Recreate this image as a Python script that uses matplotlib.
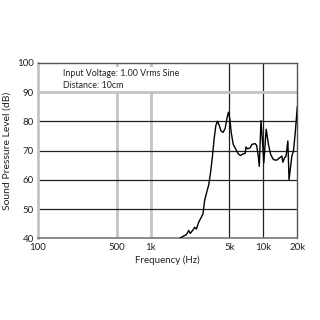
import matplotlib
matplotlib.use("Agg")
import matplotlib.pyplot as plt
from matplotlib.ticker import FixedLocator, NullLocator

freq_hz = [1500, 1810, 1940, 2080, 2180, 2250, 2380, 2460, 2550, 2670, 2790, 2920,
           3020, 3130, 3280, 3400, 3540, 3660, 3790, 3920, 4060, 4200, 4400, 4590,
           4780, 4910, 5050, 5190, 5410, 5710, 5990, 6280, 6630, 6900, 7010, 7250,
           7610, 7930, 8430, 8720, 9020, 9210, 9530, 9800, 10100, 10600, 11100,
           11600, 12300, 13100, 13900, 14600, 14900, 15400, 15900, 16500, 16900,
           17900, 18500, 19200, 20000]
spl_db = [38.0, 40.0, 40.7, 41.3, 42.7, 41.7, 42.9, 43.8, 43.2, 45.5, 46.9, 48.4,
          53.1, 55.4, 58.3, 62.3, 68.1, 73.9, 78.5, 80.0, 78.7, 76.8, 76.2, 77.6,
          81.4, 83.1, 80.8, 76.2, 72.1, 70.4, 68.9, 68.3, 68.9, 69.0, 71.2, 70.6,
          70.9, 72.1, 72.4, 71.8, 68.1, 64.6, 80.2, 73.9, 65.8, 77.3, 72.1,
          68.7, 66.9, 66.7, 67.5, 68.1, 66.0, 67.5, 68.1, 73.3, 60.0,
          68.1, 69.8, 76.2, 84.9]

x_ticks = [100, 500, 1000, 5000, 10000, 20000]
x_tick_labels = ["100", "500", "1k", "5k", "10k", "20k"]
y_ticks = [40, 50, 60, 70, 80, 90, 100]
gray_x = [500, 1000]
black_x = [5000, 10000]
gray_y = [90]
black_y = [50, 60, 70, 80]

plt.rcParams['font.family'] = ['Lato', 'DejaVu Sans']

fig = plt.figure(figsize=(3.2, 3.2), dpi=100)
ax = fig.add_axes([0.118, 0.255, 0.811, 0.549])
ax.set_xscale('log')
ax.set_xlim(100, 20000)
ax.set_ylim(40, 100)

for xv in gray_x:
    ax.axvline(xv, color='#c4c4c4', lw=2.0, zorder=1)
for xv in black_x:
    ax.axvline(xv, color='#222222', lw=0.9, zorder=1)
for yv in gray_y:
    ax.axhline(yv, color='#c4c4c4', lw=2.0, zorder=2.5)
for yv in black_y:
    ax.axhline(yv, color='#222222', lw=0.9, zorder=1)

ax.plot(freq_hz, spl_db, color='black', lw=1.0, zorder=3, clip_on=True)

ax.xaxis.set_major_locator(FixedLocator(x_ticks))
ax.xaxis.set_minor_locator(NullLocator())
ax.set_xticklabels(x_tick_labels)
ax.set_yticks(y_ticks)
ax.tick_params(axis='both', length=0, labelsize=7, colors='#222222')
ax.tick_params(axis='x', pad=3)
ax.tick_params(axis='y', pad=3)

ax.spines['left'].set_color('#c4c4c4')
ax.spines['left'].set_linewidth(2.0)
ax.spines['top'].set_color('#555555')
ax.spines['top'].set_linewidth(1.0)
ax.spines['right'].set_color('#555555')
ax.spines['right'].set_linewidth(1.0)
ax.spines['bottom'].set_color('#777777')
ax.spines['bottom'].set_linewidth(1.2)

ax.set_xlabel('Frequency (Hz)', fontsize=7, labelpad=3, color='#222222')
ax.set_ylabel('Sound Pressure Level (dB)', fontsize=7.5, color='#222222')
ax.yaxis.set_label_coords(-0.1, 0.5)

ax.text(0.098, 0.965, 'Input Voltage: 1.00 Vrms Sine\nDistance: 10cm',
        transform=ax.transAxes, fontsize=6.4, va='top', ha='left',
        linespacing=1.4, color='#222222', zorder=2,
        bbox=dict(facecolor='white', edgecolor='none', pad=1.5))

fig.savefig('out.png', dpi=100, facecolor='white')
